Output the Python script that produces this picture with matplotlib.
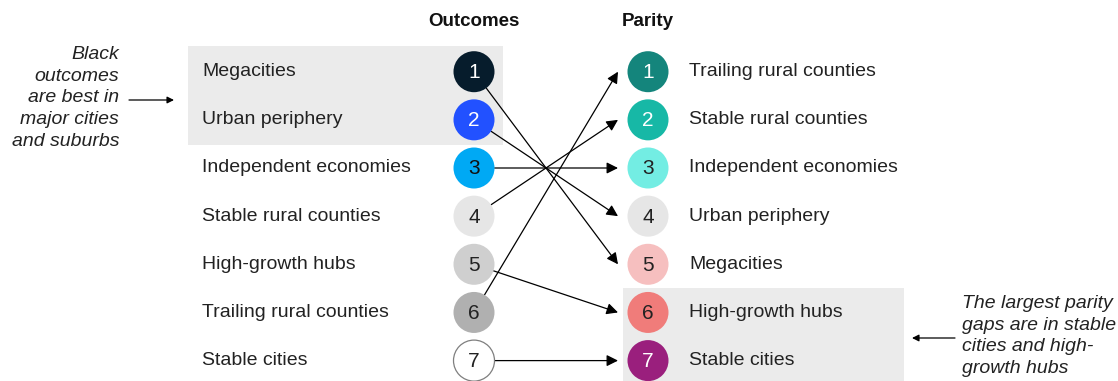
import matplotlib
matplotlib.use("Agg")
import matplotlib.pyplot as plt
from matplotlib.patches import Circle, Rectangle

# ---------------- data ----------------
outcome_order = ["Megacities", "Urban periphery", "Independent economies",
                 "Stable rural counties", "High-growth hubs",
                 "Trailing rural counties", "Stable cities"]
parity_order = ["Trailing rural counties", "Stable rural counties",
                "Independent economies", "Urban periphery", "Megacities",
                "High-growth hubs", "Stable cities"]
outcome_colors = ["#061C2C", "#2251FF", "#00A9F4", "#E6E6E6", "#CFCFCF",
                  "#B0B0B0", "#FFFFFF"]
parity_colors = ["#14857C", "#17B8A6", "#73EDE3", "#E6E6E6", "#F6BFBF",
                 "#F07C7A", "#9A1F7D"]
outcome_text_colors = ["white", "white", "#111111", "#222222", "#222222",
                       "#222222", "#222222"]
parity_text_colors = ["white", "white", "#222222", "#222222", "#222222",
                      "#222222", "white"]
headers = ["Outcomes", "Parity"]
note_left = "Black\noutcomes\nare best in\nmajor cities\nand suburbs"
note_right = "The largest parity\ngaps are in stable\ncities and high-\ngrowth hubs"

# ---------------- layout ----------------
W, H = 1118, 381
ROW0, ROW_H = 71.7, 48.15
X_OUT, X_PAR = 474, 648
R = 20.5
TIP_X = 618
FONT = ["Liberation Sans", "DejaVu Sans"]
TXT = "#222222"

def ypos(rank):
    return ROW0 + (rank - 1) * ROW_H

fig = plt.figure(figsize=(W / 100, H / 100), dpi=100)
ax = fig.add_axes([0, 0, 1, 1])
ax.set_xlim(0, W)
ax.set_ylim(H, 0)
ax.axis("off")

# highlight boxes
ax.add_patch(Rectangle((188, 46), 315, 99, color="#EBEBEB", zorder=0, lw=0))
ax.add_patch(Rectangle((623, 288), 281, 93, color="#EBEBEB", zorder=0, lw=0))

# headers
ax.text(X_OUT, 21, headers[0], ha="center", va="center", fontsize=13.5,
        fontweight="bold", family=FONT, color="#111111")
ax.text(X_PAR, 21, headers[1], ha="center", va="center", fontsize=13.5,
        fontweight="bold", family=FONT, color="#111111")

# left column
for i, name in enumerate(outcome_order):
    y = ypos(i + 1)
    ax.text(202, y, name, ha="left", va="center", fontsize=14, family=FONT,
            color=TXT)
    ec = "#7F7F7F" if outcome_colors[i] == "#FFFFFF" else "none"
    ax.add_patch(Circle((X_OUT, y), R, facecolor=outcome_colors[i],
                        edgecolor=ec, lw=0.9, zorder=3))
    ax.text(X_OUT, y + 1, str(i + 1), ha="center", va="center", fontsize=15,
            family=FONT, color=outcome_text_colors[i], zorder=4)

# right column
for i, name in enumerate(parity_order):
    y = ypos(i + 1)
    ax.text(689, y, name, ha="left", va="center", fontsize=14, family=FONT,
            color=TXT)
    ax.add_patch(Circle((X_PAR, y), R, facecolor=parity_colors[i],
                        edgecolor="none", zorder=3))
    ax.text(X_PAR, y + 1, str(i + 1), ha="center", va="center", fontsize=15,
            family=FONT, color=parity_text_colors[i], zorder=4)

# connecting arrows
shrink_pts = R * 72 / 100
for i, name in enumerate(outcome_order):
    src = i + 1
    dst = parity_order.index(name) + 1
    ax.annotate("", xy=(TIP_X, ypos(dst)), xytext=(X_OUT, ypos(src)),
                arrowprops=dict(arrowstyle="-|>", color="black", lw=0.9,
                                mutation_scale=17, shrinkA=shrink_pts,
                                shrinkB=0), zorder=2)

# side notes
ax.text(119, 98, note_left, ha="right", va="center", fontsize=14,
        style="italic", family=FONT, color=TXT, linespacing=1.38)
ax.annotate("", xy=(174, 100), xytext=(129, 100),
            arrowprops=dict(arrowstyle="-|>", color="black", lw=0.9,
                            mutation_scale=10, shrinkA=0, shrinkB=0))
ax.text(962, 336, note_right, ha="left", va="center", fontsize=14,
        style="italic", family=FONT, color=TXT, linespacing=1.38)
ax.annotate("", xy=(912, 338), xytext=(955, 338),
            arrowprops=dict(arrowstyle="-|>", color="black", lw=0.9,
                            mutation_scale=10, shrinkA=0, shrinkB=0))

fig.savefig("out.png", dpi=100)
